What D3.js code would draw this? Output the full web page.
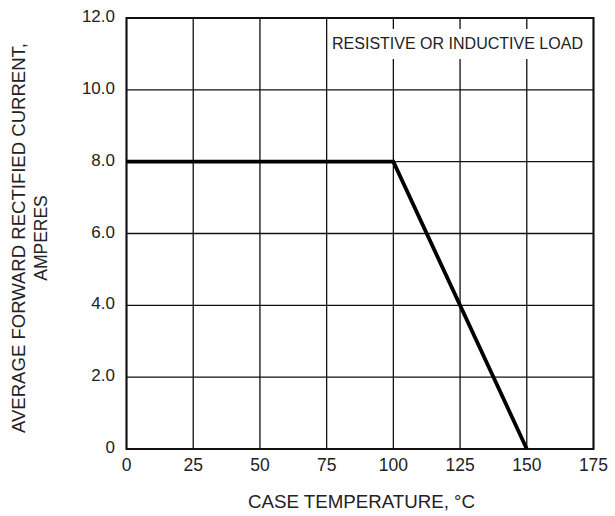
<!DOCTYPE html>
<html><head><meta charset="utf-8">
<script src="https://cdn.jsdelivr.net/npm/d3@7"></script>
<style>body{margin:0;background:#fff}svg{display:block}text{font-family:"Liberation Sans",Arial,sans-serif;fill:#222}</style>
</head><body><svg id="c" width="615" height="516"></svg>
<script>
const xTicks = [0, 25, 50, 75, 100, 125, 150, 175];
const yTicks = [0, 2, 4, 6, 8, 10, 12];
const yTickLabels = ["0", "2.0", "4.0", "6.0", "8.0", "10.0", "12.0"];
const curveTemp = [0, 100, 150];
const curveCurrent = [8, 8, 0];

const svg = d3.select("#c");
const L = 126.5, R = 593.5, T = 18, B = 449;
const x = d3.scaleLinear().domain([0, 175]).range([L, R]);
const y = d3.scaleLinear().domain([0, 12]).range([B, T]);

const g = svg.append("g");
g.selectAll(".vg").data(xTicks).join("line")
  .attr("x1", d => x(d)).attr("x2", d => x(d)).attr("y1", T).attr("y2", B)
  .attr("stroke", "#111").attr("stroke-width", 1.3);
g.selectAll(".hg").data(yTicks).join("line")
  .attr("y1", d => y(d)).attr("y2", d => y(d)).attr("x1", L).attr("x2", R)
  .attr("stroke", "#111").attr("stroke-width", 1.3);
g.append("rect").attr("x", L).attr("y", T).attr("width", R - L).attr("height", B - T)
  .attr("fill", "none").attr("stroke", "#111").attr("stroke-width", 2);

// annotation with white background
const ann = g.append("text").attr("x", 457.5).attr("y", 49).attr("text-anchor", "middle")
  .attr("font-size", 16).attr("textLength", 251).attr("lengthAdjust", "spacingAndGlyphs")
  .text("RESISTIVE OR INDUCTIVE LOAD");
g.insert("rect", "text").attr("x", 330).attr("y", 29).attr("width", 256).attr("height", 30).attr("fill", "#fff");

const pts = curveTemp.map((t, i) => [t, curveCurrent[i]]);
g.append("path").datum(pts)
  .attr("d", d3.line().x(d => x(d[0])).y(d => y(d[1])))
  .attr("fill", "none").attr("stroke", "#000").attr("stroke-width", 3.8).attr("stroke-linejoin", "miter");

g.selectAll(".xl").data(xTicks).join("text")
  .attr("x", d => x(d)).attr("y", 471).attr("text-anchor", "middle").attr("font-size", 17.5)
  .text(d => d);
g.selectAll(".yl").data(yTicks).join("text")
  .attr("x", 115).attr("y", d => y(d) + 4).attr("text-anchor", "end").attr("font-size", 17)
  .text((d, i) => yTickLabels[i]);

svg.append("text").attr("x", 361.5).attr("y", 508).attr("text-anchor", "middle").attr("font-size", 17.5)
  .attr("textLength", 227).attr("lengthAdjust", "spacingAndGlyphs")
  .text("CASE TEMPERATURE, °C");
const yt = svg.append("g").attr("transform", "translate(0,238) rotate(-90)");
yt.append("text").attr("x", 0).attr("y", 25).attr("text-anchor", "middle").attr("font-size", 17.5)
  .attr("textLength", 390).attr("lengthAdjust", "spacingAndGlyphs")
  .text("AVERAGE FORWARD RECTIFIED CURRENT,");
yt.append("text").attr("x", 0).attr("y", 47).attr("text-anchor", "middle").attr("font-size", 17.5)
  .text("AMPERES");
</script></body></html>
